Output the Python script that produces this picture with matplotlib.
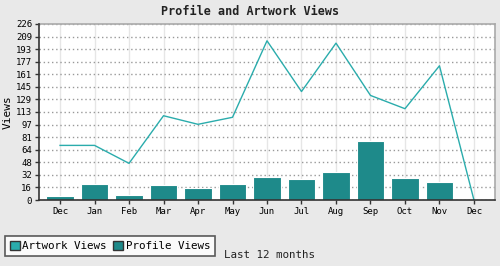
import matplotlib
matplotlib.use('Agg')
import matplotlib.pyplot as plt
from matplotlib.patches import Patch
import numpy as np

# data
months = ['Dec', 'Jan', 'Feb', 'Mar', 'Apr', 'May', 'Jun', 'Jul', 'Aug', 'Sep', 'Oct', 'Nov', 'Dec']
artwork_views = [70, 70, 47, 108, 97, 106, 204, 139, 201, 134, 117, 172, 0]
profile_views = [5.6, 21, 6.8, 19.7, 15.8, 21, 30, 27.4, 36.4, 76, 28.7, 23.5, 0]
y_max = 225.6
y_labels = ['0', '16', '32', '48', '64', '81', '97', '113', '129', '145', '161', '177', '193', '209', '226']

line_color = '#2aacac'
bar_color = '#1e8a8a'
bg = '#e9e9e9'

plt.rcParams['font.family'] = ['DejaVu Sans Mono']

fig = plt.figure(figsize=(5.0, 2.66), dpi=100, facecolor=bg)
ax = fig.add_axes([0.078, 0.248, 0.912, 0.662])
ax.set_facecolor('white')
ax.set_axisbelow(True)

x = np.arange(len(months))
ax.bar(x, profile_views, width=0.8, color=bar_color, edgecolor='white', linewidth=0.8, zorder=3)
ax.plot(x, artwork_views, color=line_color, linewidth=1.0, zorder=4)

ax.set_xlim(-0.61, len(months) - 1 + 0.61)
ax.set_ylim(0, y_max)
ax.set_xticks(x)
ax.set_xticklabels(months, fontsize=6.5)
ax.set_yticks(np.linspace(0, y_max, len(y_labels)))
ax.set_yticklabels(y_labels, fontsize=6.5)
ax.tick_params(axis='both', length=3, width=1, color='#333333', pad=2)

# grid
ax.grid(axis='x', color='#e6e6e6', linewidth=1, linestyle='-')
ax.grid(axis='y', color='#999999', linewidth=1, linestyle=(0, (1, 2)))

for side in ['top', 'right']:
    ax.spines[side].set_color('#aaaaaa')
    ax.spines[side].set_linewidth(1.2)
for side in ['left', 'bottom']:
    ax.spines[side].set_color('#333333')
    ax.spines[side].set_linewidth(1.2)
    ax.spines[side].set_zorder(5)

ax.set_ylabel('Views', fontsize=8, labelpad=2)
fig.text(0.5, 0.955, 'Profile and Artwork Views', ha='center', va='center',
         fontsize=8.5, fontweight='bold', color='#222222')

handles = [Patch(facecolor=line_color, edgecolor='#333333', label='Artwork Views'),
           Patch(facecolor=bar_color, edgecolor='#333333', label='Profile Views')]
leg = fig.legend(handles=handles, loc='lower left', bbox_to_anchor=(0.01, 0.038),
                 ncol=2, fontsize=7.8, frameon=True, fancybox=False,
                 handlelength=0.9, handleheight=0.9, handletextpad=0.25,
                 columnspacing=0.6, borderpad=0.45, borderaxespad=0)
leg.get_frame().set_edgecolor('#333333')
leg.get_frame().set_linewidth(1.2)

fig.text(0.448, 0.04, 'Last 12 months', ha='left', va='center', fontsize=7.8, color='#222222')

plt.savefig('out.png', dpi=100, facecolor=bg)
